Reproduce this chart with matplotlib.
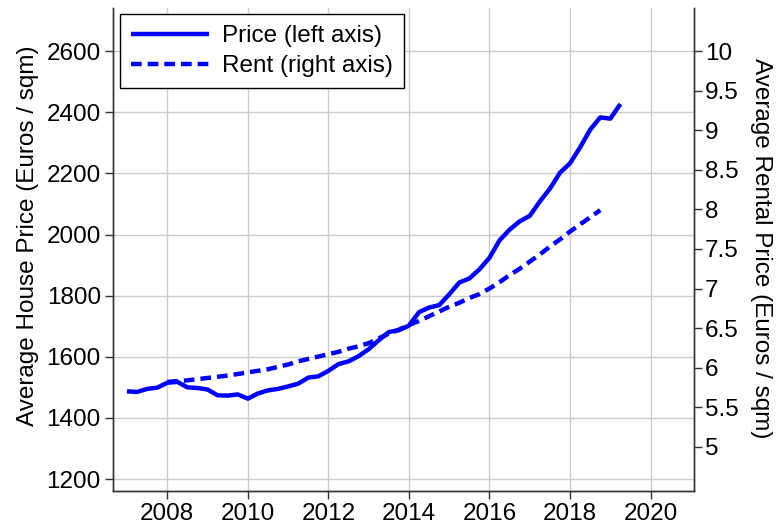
import matplotlib
matplotlib.use('Agg')
import matplotlib.pyplot as plt
import numpy as np

plt.rcParams['font.family'] = ['Liberation Sans', 'DejaVu Sans']

# Quarterly data
price_years = [2007.00, 2007.25, 2007.50, 2007.75, 2008.00, 2008.25, 2008.50, 2008.75,
               2009.00, 2009.25, 2009.50, 2009.75, 2010.00, 2010.25, 2010.50, 2010.75,
               2011.00, 2011.25, 2011.50, 2011.75, 2012.00, 2012.25, 2012.50, 2012.75,
               2013.00, 2013.25, 2013.50, 2013.75, 2014.00, 2014.25, 2014.50, 2014.75,
               2015.00, 2015.25, 2015.50, 2015.75, 2016.00, 2016.25, 2016.50, 2016.75,
               2017.00, 2017.25, 2017.50, 2017.75, 2018.00, 2018.25, 2018.50, 2018.75,
               2019.00, 2019.25]
price = [1487, 1485, 1495, 1499, 1515, 1518, 1500, 1498,
         1493, 1474, 1473, 1477, 1463, 1480, 1490, 1495,
         1503, 1512, 1532, 1536, 1554, 1576, 1585, 1602,
         1625, 1654, 1681, 1687, 1702, 1746, 1761, 1769,
         1804, 1843, 1856, 1886, 1924, 1981, 2016, 2043,
         2061, 2108, 2150, 2202, 2233, 2285, 2343, 2383,
         2379, 2427]

rent_years = [2008.00, 2008.25, 2008.50, 2008.75, 2009.00, 2009.25, 2009.50, 2009.75,
              2010.00, 2010.25, 2010.50, 2010.75, 2011.00, 2011.25, 2011.50, 2011.75,
              2012.00, 2012.25, 2012.50, 2012.75, 2013.00, 2013.25, 2013.50, 2013.75,
              2014.00, 2014.25, 2014.50, 2014.75, 2015.00, 2015.25, 2015.50, 2015.75,
              2016.00, 2016.25, 2016.50, 2016.75, 2017.00, 2017.25, 2017.50, 2017.75,
              2018.00, 2018.25, 2018.50, 2018.75]
rent = [5.82, 5.83, 5.84, 5.855, 5.87, 5.885, 5.90, 5.92,
        5.94, 5.96, 5.98, 6.01, 6.04, 6.08, 6.11, 6.14,
        6.17, 6.20, 6.24, 6.27, 6.31, 6.37, 6.43, 6.48,
        6.54, 6.59, 6.65, 6.71, 6.77, 6.82, 6.88, 6.93,
        7.00, 7.08, 7.17, 7.25, 7.34, 7.43, 7.53, 7.62,
        7.72, 7.81, 7.90, 7.99]

xticks = [2008, 2010, 2012, 2014, 2016, 2018, 2020]
left_ticks = [1200, 1400, 1600, 1800, 2000, 2200, 2400, 2600]
right_ticks = [5, 5.5, 6, 6.5, 7, 7.5, 8, 8.5, 9, 9.5, 10]

FS = 17.5
spine_col = '#333333'

fig = plt.figure(figsize=(7.77, 5.27), dpi=100)
ax = fig.add_axes([0.1458, 0.0689, 0.7470, 0.9154])
ax2 = ax.twinx()

l1, = ax.plot(price_years, price, color='blue', lw=3.2, solid_capstyle='butt',
              label='Price (left axis)')
l2, = ax2.plot(rent_years, rent, color='blue', lw=3.2, dashes=(2.4, 1.35),
               label='Rent (right axis)')

ax.set_xlim(2006.66, 2021.07)
ax.set_ylim(1162, 2740)
ax2.set_ylim(4.446, 10.54)

ax.set_xticks(xticks)
ax.set_yticks(left_ticks)
ax2.set_yticks(right_ticks)
ax2.set_yticklabels([('%g' % t) for t in right_ticks])

ax.grid(True, color='#cccccc', lw=1)
ax.set_axisbelow(True)

for a in (ax, ax2):
    a.spines['top'].set_visible(False)
    for s in ('left', 'right', 'bottom'):
        a.spines[s].set_color(spine_col)
        a.spines[s].set_linewidth(1)
    a.tick_params(direction='out', length=5.8, width=1, color=spine_col,
                  labelsize=FS, labelcolor='black')
ax.tick_params(axis='y', pad=3.2)
ax.tick_params(axis='x', pad=3.2)
ax2.tick_params(axis='y', pad=2.2)

ax.set_ylabel('Average House Price (Euros / sqm)', fontsize=FS)
ax.yaxis.set_label_coords(-0.128, 0.528)
ax2.set_ylabel('Average Rental Price (Euros / sqm)', fontsize=FS,
               rotation=270, va='bottom')
ax2.yaxis.set_label_coords(1.097, 0.503)

leg = ax.legend(handles=[l1, l2], loc='upper left', bbox_to_anchor=(0.0115, 0.988),
                borderaxespad=0, fontsize=FS, handlelength=3.2, handletextpad=0.55,
                labelspacing=0.33, borderpad=0.45, fancybox=False, framealpha=1)
leg.get_frame().set_edgecolor('black')
leg.get_frame().set_linewidth(1)

fig.savefig('out.png', dpi=100)
